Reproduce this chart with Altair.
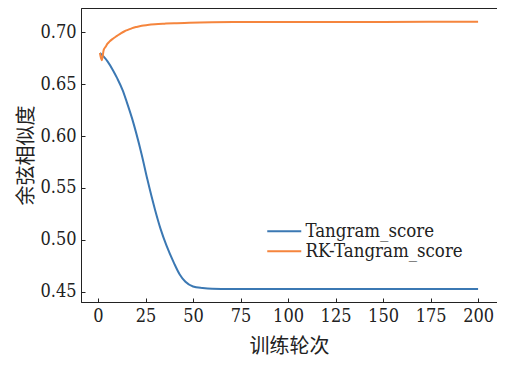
import altair as alt
import pandas as pd

# Training epochs and cosine similarity
tangram_x = [1, 3, 5, 8, 10, 13, 15, 18, 20, 23, 26, 30, 33, 36, 40, 43, 46, 50, 55, 60, 70, 100, 150, 200]
tangram_y = [0.680, 0.6765, 0.672, 0.663, 0.656, 0.644, 0.6335, 0.6165, 0.6035, 0.582, 0.558, 0.529,
             0.510, 0.4945, 0.4775, 0.4665, 0.4595, 0.455, 0.4535, 0.4528, 0.4526, 0.4526, 0.4526, 0.4526]

rk_x = [1, 2, 3, 4, 5, 6, 8, 10, 12, 14, 16, 18, 20, 23, 26, 30, 35, 40, 48, 60, 80, 100, 150, 200]
rk_y = [0.680, 0.673, 0.683, 0.686, 0.689, 0.691, 0.694, 0.6965, 0.699, 0.701, 0.7025, 0.704,
        0.705, 0.7063, 0.707, 0.7077, 0.7083, 0.7088, 0.7093, 0.7097, 0.7099, 0.7100, 0.7100, 0.7101]

series_names = ["Tangram_score", "RK-Tangram_score"]
series_colors = ["#3b78b3", "#f5853d"]
x_ticks = [0, 25, 50, 75, 100, 125, 150, 175, 200]
y_ticks = [0.45, 0.50, 0.55, 0.60, 0.65, 0.70]

df = pd.concat([
    pd.DataFrame({"epoch": tangram_x, "score": tangram_y, "series": series_names[0]}),
    pd.DataFrame({"epoch": rk_x, "score": rk_y, "series": series_names[1]}),
])

SERIF = "DejaVu Serif Condensed, DejaVu Serif"
CJK = "Noto Sans CJK SC"

chart = alt.Chart(df).mark_line(strokeWidth=2, interpolate="monotone").encode(
    x=alt.X("epoch:Q",
            scale=alt.Scale(domain=[-8.95, 209.95], nice=False, zero=False),
            axis=alt.Axis(values=x_ticks, title="训练轮次", format="d",
                          tickSize={"expr": "-4"}, labelPadding=9, titlePadding=11)),
    y=alt.Y("score:Q",
            scale=alt.Scale(domain=[0.440, 0.7234], nice=False, zero=False),
            axis=alt.Axis(values=y_ticks, title="余弦相似度", format=".2f",
                          tickSize={"expr": "-4"}, labelPadding=9, titlePadding=3)),
    color=alt.Color("series:N",
                    scale=alt.Scale(domain=series_names, range=series_colors),
                    legend=alt.Legend(title=None, orient="none", legendX=182, legendY=214,
                                      symbolType="M-1,0H5.8", symbolSize=100,
                                      symbolStrokeWidth=2, labelFontSize=18.5,
                                      labelFont=SERIF, labelColor="#222",
                                      labelOffset=24, rowPadding=1, padding=0)),
    order="epoch:Q",
).properties(
    width=416, height=294,
    autosize=alt.AutoSizeParams(type="none"),
    padding={"left": 73, "top": 0, "right": 0, "bottom": 57},
).configure_view(
    stroke="#222", strokeWidth=1
).configure_axis(
    grid=False, domainColor="#222", tickColor="#222", labelColor="#222", titleColor="#222",
    labelFont=SERIF, titleFont=CJK, labelFontSize=18, titleFontSize=20,
    titleFontWeight="normal", domainWidth=1, tickWidth=1
)

chart.save("out.html", embed_options={"renderer": "svg", "actions": False})
